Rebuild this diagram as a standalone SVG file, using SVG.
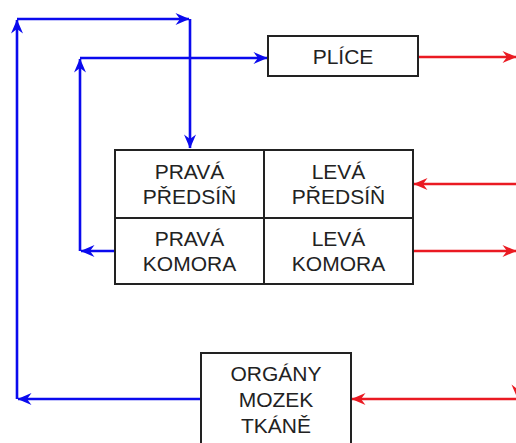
<svg xmlns="http://www.w3.org/2000/svg" width="516" height="443" viewBox="0 0 516 443">
<style>
.box{fill:#fff;stroke:#222;stroke-width:2}
.t{font-family:"Liberation Sans",Arial,sans-serif;font-size:21px;fill:#222;text-anchor:middle}
.b{fill:none;stroke:#0a0aee;stroke-width:2.6}
.r{fill:none;stroke:#ea1a22;stroke-width:2.6}
</style>
<defs>
<marker id="ab" markerUnits="userSpaceOnUse" markerWidth="15" markerHeight="13" refX="13.5" refY="6.5" orient="auto" overflow="visible">
<path d="M0,0.5 L14,6.5 L0,12.5 L4.5,6.5 z" fill="#0a0aee"/>
</marker>
<marker id="ar" markerUnits="userSpaceOnUse" markerWidth="15" markerHeight="13" refX="13.5" refY="6.5" orient="auto" overflow="visible">
<path d="M0,0.5 L14,6.5 L0,12.5 L4.5,6.5 z" fill="#ea1a22"/>
</marker>
</defs>
<g id="connectors">
<path class="b" d="M201,399 L18,399" marker-end="url(#ab)"/>
<path class="b" d="M17,399 L17,20" marker-end="url(#ab)"/>
<path class="b" d="M17,19 L189,19" marker-end="url(#ab)"/>
<path class="b" d="M190,19 L190,148" marker-end="url(#ab)"/>
<path class="b" d="M115,251 L81,251" marker-end="url(#ab)"/>
<path class="b" d="M80,251 L80,59" marker-end="url(#ab)"/>
<path class="b" d="M80,58 L267,58" marker-end="url(#ab)"/>
<path class="r" d="M418,57 L516,57" marker-end="url(#ar)"/>
<path class="r" d="M516,184 L414,184" marker-end="url(#ar)"/>
<path class="r" d="M413,251 L516,251" marker-end="url(#ar)"/>
<path class="r" d="M517.5,251 L517.5,398" stroke-opacity="0.35" marker-end="url(#ar)"/>
<path class="r" d="M516,399 L352,399" marker-end="url(#ar)"/>
</g>
<g id="plice">
<rect class="box" x="268" y="36" width="150" height="40"/>
<text class="t" x="343" y="64">PLÍCE</text>
</g>
<g id="heart">
<rect class="box" x="115" y="150" width="298" height="134"/>
<line x1="264" y1="150" x2="264" y2="284" stroke="#222" stroke-width="2"/>
<line x1="115" y1="218" x2="413" y2="218" stroke="#222" stroke-width="2"/>
</g>
<g id="prava-predsin">
<text class="t" x="189.5" y="179">PRAVÁ</text>
<text class="t" x="189.5" y="204">PŘEDSÍŇ</text>
</g>
<g id="leva-predsin">
<text class="t" x="338.5" y="179">LEVÁ</text>
<text class="t" x="338.5" y="204">PŘEDSÍŇ</text>
</g>
<g id="prava-komora">
<text class="t" x="189.5" y="246">PRAVÁ</text>
<text class="t" x="189.5" y="271">KOMORA</text>
</g>
<g id="leva-komora">
<text class="t" x="338.5" y="246">LEVÁ</text>
<text class="t" x="338.5" y="271">KOMORA</text>
</g>
<g id="organy">
<rect class="box" x="201" y="353" width="150" height="100"/>
<text class="t" x="276" y="381">ORGÁNY</text>
<text class="t" x="276" y="407">MOZEK</text>
<text class="t" x="276" y="433">TKÁNĚ</text>
</g>
</svg>
